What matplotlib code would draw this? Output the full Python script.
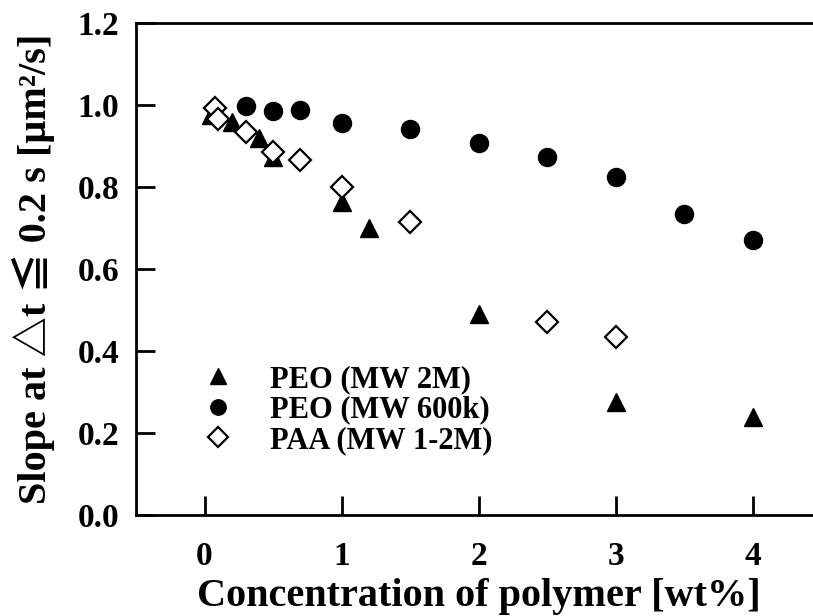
import matplotlib.pyplot as plt

# PEO (MW 2M)
peo2m_x = [0.05, 0.2, 0.4, 0.5, 1.0, 1.2, 2.0, 3.0, 4.0]
peo2m_y = [0.975, 0.959, 0.919, 0.872, 0.764, 0.700, 0.489, 0.276, 0.239]

# PEO (MW 600k)
peo600k_x = [0.3, 0.5, 0.7, 1.0, 1.5, 2.0, 2.5, 3.0, 3.5, 4.0]
peo600k_y = [0.998, 0.984, 0.988, 0.957, 0.941, 0.906, 0.874, 0.823, 0.733, 0.670]

# PAA (MW 1-2M)
paa_x = [0.08, 0.1, 0.3, 0.5, 0.7, 1.0, 1.5, 2.5, 3.0]
paa_y = [0.993, 0.965, 0.935, 0.886, 0.866, 0.800, 0.715, 0.469, 0.434]

x_ticks = [0, 1, 2, 3, 4]
y_ticks = [0.0, 0.2, 0.4, 0.6, 0.8, 1.0, 1.2]

FONT = ['Liberation Serif', 'Noto Sans CJK JP', 'DejaVu Serif']
plt.rcParams['font.family'] = FONT
plt.rcParams['font.weight'] = 'bold'

fig = plt.figure(figsize=(8.13, 6.16), dpi=100)
ax = fig.add_axes([136 / 813, 1 - 514.6 / 616, 685 / 813, 491.6 / 616])

ax.plot(peo2m_x, peo2m_y, linestyle='None', marker='^', ms=13, color='black', label='PEO (MW 2M)')
ax.plot(peo600k_x, peo600k_y, linestyle='None', marker='o', ms=13, color='black', label='PEO (MW 600k)')
ax.plot(paa_x, paa_y, linestyle='None', marker='D', ms=11.5, markerfacecolor='white',
        markeredgecolor='black', markeredgewidth=1.6, label='PAA (MW 1-2M)')

ax.set_xlim(-0.5, 4.5)
ax.set_ylim(0, 1.2)
ax.set_xticks(x_ticks)
ax.set_yticks(y_ticks)
ax.set_xticklabels([str(t) for t in x_ticks])
ax.set_yticklabels([f'{t:.1f}' for t in y_ticks])
ax.tick_params(direction='in', length=14, width=2, labelsize=24)
ax.tick_params(axis='y', pad=12)
ax.tick_params(axis='x', pad=19)
for s in ['left', 'bottom', 'top']:
    ax.spines[s].set_linewidth(2)
ax.spines['right'].set_visible(False)

ax.set_xlabel('Concentration of polymer [wt%]', fontsize=29, fontweight='bold', labelpad=4)
ax.set_ylabel('Slope at \u25b3t \u2266 0.2 s [\u03bcm\u00b2/s]', fontsize=29, fontweight='bold', labelpad=16)

ax.legend(loc='upper left', bbox_to_anchor=(0.035, 0.36), frameon=False,
          handletextpad=0.7, labelspacing=0.05, markerscale=0.85,
          prop={'weight': 'bold', 'size': 22})

fig.savefig('out.png', dpi=100)
